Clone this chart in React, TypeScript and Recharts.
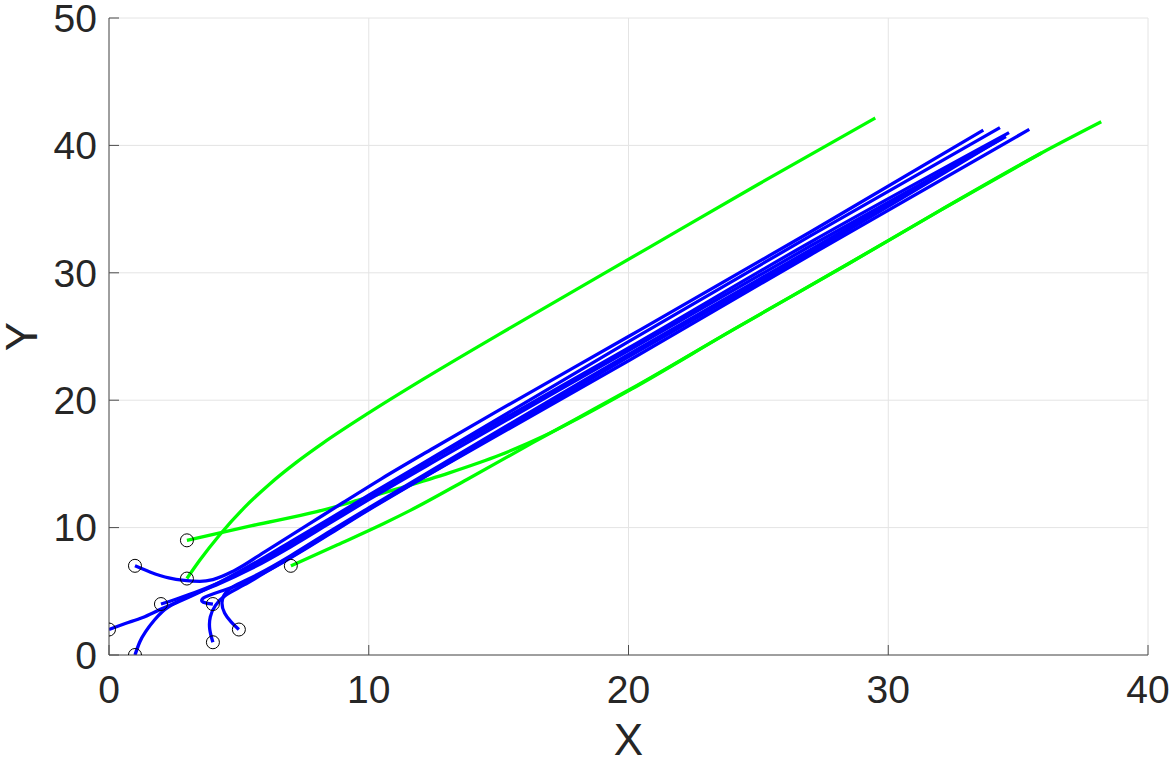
import React from 'react';
import {
  ComposedChart,
  Line,
  Scatter,
  XAxis,
  YAxis,
  CartesianGrid,
} from 'recharts';

type Pt = { x: number; y: number };
const pts = (a: number[][]): Pt[] => a.map(([x, y]) => ({ x, y }));

// green trajectories (x increases along each one)
const greenFrom3_6 = pts([
  [3, 6], [3.5, 7.45], [4.25, 9.4], [5.2, 11.55], [6.2, 13.45], [7.2, 15.1], [8.25, 16.65],
  [10, 19.0], [12.1, 21.65], [15, 25.15], [20.8, 32.0], [25, 36.95], [29.5, 42.15],
]);
const greenFrom3_9 = pts([
  [3, 9], [5.5, 10.15], [8, 11.25], [9.6, 12.15], [11.2, 13.1], [13.1, 14.3], [15.05, 15.7],
  [16.7, 17.15], [18, 18.5], [20.1, 20.85], [24, 25.5], [28.5, 30.75], [32, 34.9], [35.9, 39.4],
  [38.2, 41.85],
]);
const greenFrom7_7 = pts([
  [7, 7], [8.8, 8.65], [10.56, 10.3], [11.6, 11.35], [13.8, 13.8], [16.3, 16.65], [18, 18.55],
  [20.1, 20.9], [24, 25.5], [28.5, 30.75], [32, 34.9], [35.9, 39.4],
]);

// blue trajectories
const blueFrom1_7 = pts([
  [1, 7], [1.6, 6.5], [2.3, 6.05], [2.9, 5.85], [3.5, 5.78], [4.0, 5.92], [4.8, 6.6],
  [6.07, 8.2], [7.6, 10.15], [9, 11.95], [10.5, 13.85], [12.5, 16.25], [15, 19.2], [20, 25.0],
  [27, 33.2], [33.66, 41.2],
]);
const blueFrom0_2 = pts([
  [0, 2], [0.6, 2.45], [1.3, 2.95], [2.0, 3.6], [2.7, 4.2], [3.4, 4.85], [4.3, 5.75],
  [5.5, 7.1], [7, 8.9], [8.5, 10.7], [10, 12.55], [13, 16.15], [20, 24.6], [27, 32.9],
  [34.3, 41.4],
]);
const blueFrom2_4 = pts([
  [2, 4], [2.6, 4.4], [3.3, 4.9], [4.1, 5.55], [5.2, 6.6], [6.5, 8.1], [8, 9.95],
  [10, 12.45], [13, 16.0], [20, 24.1], [27, 32.4], [34.65, 41.0],
]);
const blueFrom1_0 = pts([
  [1, 0], [1.18, 1.0], [1.45, 1.95], [1.75, 2.75], [2.05, 3.4], [2.6, 4.15], [3.3, 4.8],
  [4.2, 5.55], [5.5, 6.8], [7, 8.5], [8.5, 10.35], [10, 12.2], [13, 15.75], [20, 23.9],
  [27, 32.1], [34.53, 40.7],
]);
const blueFrom4_4 = pts([
  [4, 4], [3.75, 4.08], [3.58, 4.22], [3.62, 4.45], [3.82, 4.65], [4.3, 5.0], [5.2, 5.7],
  [6.8, 7.4], [8.5, 9.5], [10, 11.4], [13, 15.0], [20, 23.4], [27, 31.6], [34.37, 40.55],
]);
const blueFrom4_1 = pts([
  [4, 1], [3.88, 2.0], [3.9, 3.0], [4.1, 3.9], [4.5, 4.7], [5.2, 5.5], [6.2, 6.7],
  [7.5, 8.3], [9, 10.2], [11, 12.65], [15, 17.3], [20, 23.1], [27, 31.4], [35.43, 41.26],
]);
const blueFrom5_2 = pts([
  [5, 2], [4.7, 2.6], [4.45, 3.3], [4.35, 4.1], [4.5, 4.9], [4.95, 5.55], [5.7, 6.3],
  [7, 7.8], [8.5, 9.7], [10, 11.55], [13, 15.2], [20, 23.6], [27, 31.8], [34.2, 40.4],
]);

const greenSeries = [greenFrom3_6, greenFrom3_9, greenFrom7_7];
const blueSeries = [
  blueFrom1_7, blueFrom0_2, blueFrom2_4, blueFrom1_0, blueFrom4_4, blueFrom4_1, blueFrom5_2,
];
const startPoints = [...greenSeries, ...blueSeries].map((s) => s[0]);

const xTicks = [0, 10, 20, 30, 40];
const yTicks = [0, 10, 20, 30, 40, 50];

const FONT = '"Liberation Sans", Arial, Helvetica, sans-serif';
const TEXT = '#262626';
const AXIS = '#4d4d4d';

// monotone in x -> smooth monotoneX curve, hooks need a parametric spline
const curveOf = (d: Pt[]) =>
  d.every((p, i) => i === 0 || p.x > d[i - 1].x) ? 'monotone' : 'natural';

const XTick = (props: any) => {
  const { x, y, payload } = props;
  return (
    <g>
      <line x1={x} x2={x} y1={y - 20} y2={y - 30} stroke={AXIS} />
      <text x={x} y={y} dy="0.71em" textAnchor="middle" fontSize={39} fontFamily={FONT} fill={TEXT}>
        {payload.value}
      </text>
    </g>
  );
};

const YTick = (props: any) => {
  const { x, y, payload } = props;
  return (
    <g>
      <line x1={x + 12} x2={x + 22} y1={y} y2={y} stroke={AXIS} />
      <text x={x} y={y} dy="0.355em" textAnchor="end" fontSize={39} fontFamily={FONT} fill={TEXT}>
        {payload.value}
      </text>
    </g>
  );
};

const StartCircle = (props: any) => (
  <circle cx={props.cx} cy={props.cy} r={6.5} fill="none" stroke="#000" strokeWidth={1} />
);

export default function App() {
  return (
    <div style={{ position: 'absolute', left: 0, top: 0, width: 1174, height: 759, background: '#fff' }}>
      <ComposedChart width={1174} height={759} margin={{ top: 18, right: 26, bottom: 0, left: 0 }}>
        <CartesianGrid stroke="#e4e4e4" />
        <XAxis
          type="number"
          dataKey="x"
          domain={[0, 40]}
          ticks={xTicks}
          allowDataOverflow
          height={104}
          tickSize={10}
          tickMargin={10}
          tickLine={false}
          stroke={AXIS}
          tick={<XTick />}
          label={{
            content: (p: any) => {
              const vb = p.viewBox;
              return (
                <text x={vb.x + vb.width / 2} y={vb.y + vb.height - 4} textAnchor="middle"
                  fontSize={44} fontFamily={FONT} fill={TEXT}>X</text>
              );
            },
          }}
        />
        <YAxis
          type="number"
          dataKey="y"
          domain={[0, 50]}
          ticks={yTicks}
          allowDataOverflow
          width={109}
          tickSize={10}
          tickMargin={2}
          tickLine={false}
          stroke={AXIS}
          tick={<YTick />}
          label={{
            content: (p: any) => {
              const vb = p.viewBox;
              const cx = vb.x + 21;
              const cy = vb.y + vb.height / 2;
              return (
                <text x={cx} y={cy} dy="0.355em" textAnchor="middle" transform={`rotate(-90 ${cx} ${cy})`}
                  fontSize={44} fontFamily={FONT} fill={TEXT}>Y</text>
              );
            },
          }}
        />
        {greenSeries.map((d, i) => (
          <Line key={'g' + i} data={d} dataKey="y" type={curveOf(d)} stroke="#00ff00" strokeWidth={3.3}
            dot={false} activeDot={false} isAnimationActive={false} />
        ))}
        {blueSeries.map((d, i) => (
          <Line key={'b' + i} data={d} dataKey="y" type={curveOf(d)} stroke="#0000ff" strokeWidth={3.3}
            dot={false} activeDot={false} isAnimationActive={false} />
        ))}
        <Scatter data={startPoints} dataKey="y" shape={<StartCircle />} isAnimationActive={false} />
      </ComposedChart>
    </div>
  );
}
